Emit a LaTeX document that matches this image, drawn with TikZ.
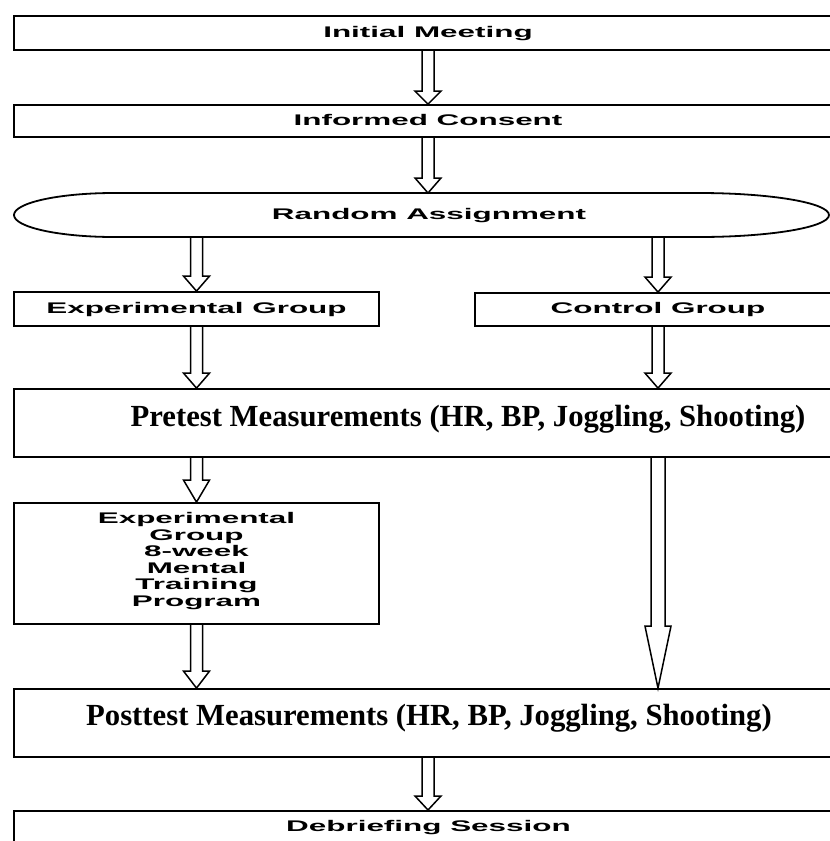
\documentclass[tikz,border=0pt]{standalone}
\usepackage{fontspec}
\setmainfont{Liberation Serif}
\newfontfamily\widesans[FakeStretch=2.04]{Liberation Sans}
\newfontfamily\serifbold{Liberation Serif}
\usetikzlibrary{calc}
\newcommand\harr[4]{%
  \draw[arrline] ($(#1)+(-#4,0)$) -- ($(#2)+(-#4,-#3)$) -- ($(#2)+(-13,-#3)$) -- (#2)
    -- ($(#2)+(13,-#3)$) -- ($(#2)+(#4,-#3)$) -- ($(#1)+(#4,0)$);}
\begin{document}
\begin{tikzpicture}[x=1pt,y=-1pt,
  frame/.style={draw=black,line width=1.8pt,inner sep=0pt},
  sanslab/.style={font=\widesans\bfseries\fontsize{15.4}{16.6}\selectfont,text height=11pt,text depth=3pt},
  seriflab/.style={font=\serifbold\bfseries\fontsize{30.7}{34}\selectfont,inner sep=0pt,anchor=base},
  arrline/.style={draw=black,line width=1.5pt,line join=miter}]
\fill[white] (0,0) rectangle (830,841);
\useasboundingbox (0,0) rectangle (830,841);
\clip (0,0) rectangle (830,841);
% boxes
\node[frame,sanslab,minimum width=828,minimum height=34] (im) at (428,33) {Initial Meeting};
\node[frame,sanslab,minimum width=828,minimum height=32] (ic) at (428,121) {Informed Consent};
\draw[frame] (114,193) -- (699,193) arc[start angle=-90,end angle=90,x radius=130,y radius=22]
  -- (114,237) arc[start angle=90,end angle=270,x radius=100,y radius=22] -- cycle;
\node[sanslab,inner sep=0pt] (ra) at (429,215) {Random Assignment};
\coordinate (rat) at (428,193);
\coordinate (rab) at (428,237);
\node[frame,sanslab,minimum width=365,minimum height=34] (exp) at (196.5,309) {Experimental Group};
\node[frame,sanslab,minimum width=366,minimum height=33] (ctrl) at (658,309.5) {Control Group};
\node[frame,minimum width=828,minimum height=68] (pre) at (428,423) {};
\node[seriflab] (pretext) at (468,426) {Pretest Measurements (HR, BP, Joggling, Shooting)};
\node[frame,minimum width=365,minimum height=121] (train) at (196.5,563.5) {};
\node[font=\widesans\bfseries\fontsize{15.4}{16.6}\selectfont,align=center,inner sep=0pt] (traintext) at (196.5,561)
  {Experimental\\Group\\8-week\\Mental\\Training\\Program};
\node[frame,minimum width=828,minimum height=68] (post) at (428,723) {};
\node[seriflab] (posttext) at (429,725) {Posttest Measurements (HR, BP, Joggling, Shooting)};
\node[frame,sanslab,minimum width=828,minimum height=40,text height=11pt,text depth=3pt,anchor=north] (deb) at (428,810) {};
\node[sanslab,inner sep=0pt] (debtext) at (428.5,827) {Debriefing Session};
% arrows
\harr{im.south}{ic.north}{13}{6}
\harr{ic.south}{rat}{15}{6}
\harr{rab -| exp.north}{exp.north}{15}{6}
\harr{rab -| ctrl.north}{ctrl.north}{15}{6}
\harr{exp.south}{exp.south |- pre.north}{15}{6}
\harr{ctrl.south}{ctrl.south |- pre.north}{15}{6}
\harr{exp.south |- pre.south}{train.north}{22}{6}
\harr{train.south}{train.south |- post.north}{17}{6}
\harr{ctrl.south |- pre.south}{ctrl.south |- post.north}{62}{7}
\harr{post.south}{deb.north}{14}{6}
\end{tikzpicture}
\end{document}
